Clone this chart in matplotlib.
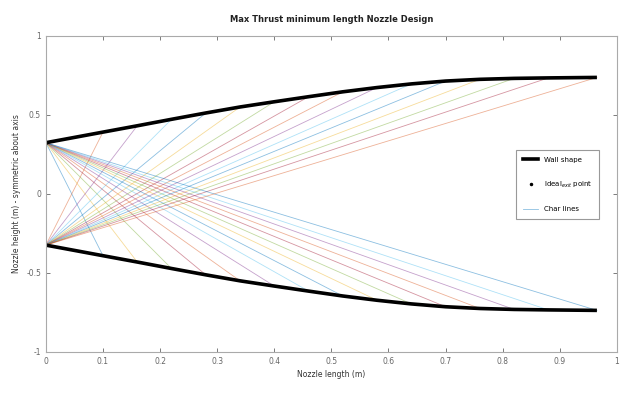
import matplotlib
matplotlib.use("Agg")
import matplotlib.pyplot as plt
from matplotlib.lines import Line2D

# ---- data ----
throat_x = 0.0
throat_y = 0.324
wall_x = [0.0, 0.10, 0.16, 0.22, 0.28, 0.34, 0.40, 0.46, 0.52, 0.58,
          0.64, 0.70, 0.76, 0.82, 0.88, 0.965]
wall_y = [0.324, 0.391, 0.431, 0.472, 0.512, 0.550, 0.583, 0.615, 0.646,
          0.673, 0.696, 0.714, 0.725, 0.731, 0.734, 0.737]
x_ticks = [0, 0.1, 0.2, 0.3, 0.4, 0.5, 0.6, 0.7, 0.8, 0.9, 1.0]
x_tick_labels = ["0", "0.1", "0.2", "0.3", "0.4", "0.5", "0.6", "0.7", "0.8", "0.9", "1"]
y_ticks = [-1, -0.5, 0, 0.5, 1]
y_tick_labels = ["-1", "-0.5", "0", "0.5", "1"]
title_text = "Max Thrust minimum length Nozzle Design"
x_label = "Nozzle length (m)"
y_label = "Nozzle height (m) - symmetric about axis"
legend_labels = ["Wall shape", "Ideal$_{exit}$ point", "Char lines"]

colors = ["#0072BD", "#D95319", "#EDB120", "#7E2F8E", "#77AC30", "#4DBEEE", "#A2142F"]

fig = plt.figure(figsize=(6.2, 4.17), dpi=100)
ax = fig.add_axes([0.074, 0.156, 0.921, 0.758])

# characteristic lines: from each throat corner to the opposite wall point
k = 0
for xi, yi in zip(wall_x[1:], wall_y[1:]):
    c = colors[k % len(colors)]
    ax.plot([throat_x, xi], [throat_y, -yi], color=c, lw=0.6, alpha=0.45)
    k += 1
    c = colors[k % len(colors)]
    ax.plot([throat_x, xi], [-throat_y, yi], color=c, lw=0.6, alpha=0.45)
    k += 1

# walls
ax.plot(wall_x, wall_y, color="black", lw=2.6, solid_capstyle="butt")
ax.plot(wall_x, [-v for v in wall_y], color="black", lw=2.6, solid_capstyle="butt")
ax.plot([throat_x, throat_x], [throat_y, -throat_y], ls="none", marker=".",
        color="black", ms=2)

ax.set_xlim(0, 1)
ax.set_ylim(-1, 1)
ax.set_xticks(x_ticks)
ax.set_xticklabels(x_tick_labels)
ax.set_yticks(y_ticks)
ax.set_yticklabels(y_tick_labels)
ax.tick_params(direction="in", top=True, right=True, labelsize=5.5,
               colors="#666666", length=3, width=0.6)
for s in ax.spines.values():
    s.set_color("#aaaaaa")
    s.set_linewidth(0.8)

ax.set_title(title_text, fontsize=6, fontweight="bold", color="#222222", pad=10)
ax.set_xlabel(x_label, fontsize=5.5, color="#333333", labelpad=3)
ax.set_ylabel(y_label, fontsize=5.5, color="#333333", labelpad=4)

handles = [Line2D([], [], color="black", lw=2.6),
           Line2D([], [], ls="none", marker=".", color="black", ms=3),
           Line2D([], [], color=colors[0], lw=0.6, alpha=0.45)]
leg = ax.legend(handles, legend_labels, loc="center right",
                bbox_to_anchor=(0.975, 0.53), fontsize=5, labelspacing=2.4,
                handlelength=2.2, borderpad=1.0, fancybox=False, framealpha=1,
                edgecolor="#999999")
leg.get_frame().set_linewidth(0.8)

fig.savefig("out.png", dpi=100)
